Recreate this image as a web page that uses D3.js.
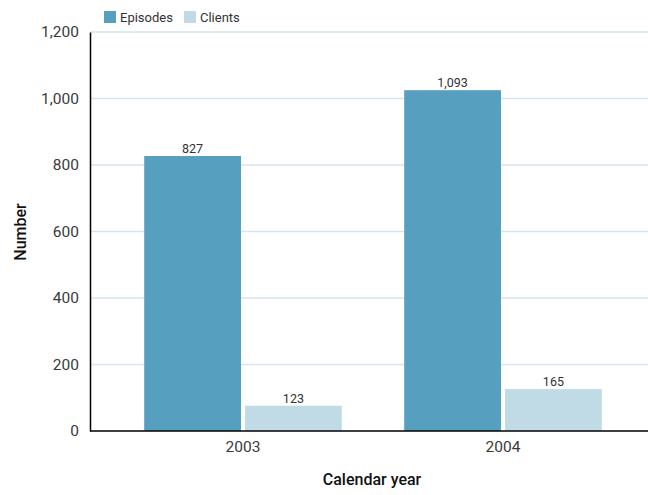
<!DOCTYPE html>
<html><head><meta charset="utf-8">
<script src="https://cdn.jsdelivr.net/npm/d3@7"></script>
<style>body{margin:0;background:#fff}svg{display:block;font-family:Roboto,"Liberation Sans",sans-serif}</style>
</head><body><svg id="c" width="648" height="495"></svg>
<script>
const years = ["2003", "2004"];
const seriesNames = ["Episodes", "Clients"];
const episodes = [827, 1025];
const clients = [76, 126];
const episodeLabels = ["827", "1,093"];
const clientLabels = ["123", "165"];
const yTicks = [0, 200, 400, 600, 800, 1000, 1200];
const colors = ["#579fbf", "#c1dbe6"];

const svg = d3.select("#c");
const y = d3.scaleLinear().domain([0, 1200]).range([431, 32]);
const x = d3.scaleBand().domain(years).range([113, 633]).paddingInner(0.24).paddingOuter(0.12);
const xs = d3.scaleBand().domain(seriesNames).range([0, x.bandwidth()]).paddingInner(0.04);

// gridlines
svg.append("g").selectAll("line").data(yTicks.filter(d => d > 0)).join("line")
  .attr("x1", 90).attr("x2", 648).attr("y1", d => y(d)).attr("y2", d => y(d))
  .attr("stroke", "#d4e5ee").attr("stroke-width", 1.5);

// y axis
const ya = svg.append("g").attr("transform", "translate(90,0)")
  .call(d3.axisLeft(y).tickValues(yTicks).tickSize(0).tickPadding(11).tickFormat(d3.format(",")));
ya.select(".domain").attr("stroke", "#000").attr("stroke-width", 1.5);
ya.selectAll("text").attr("font-size", 15.5).attr("fill", "#3a3a3a").attr("font-family", "Roboto").attr("font-weight", 400);

// bars
const data = years.map((yr, i) => ({yr, vals: [
  {s: "Episodes", v: episodes[i], lab: episodeLabels[i]},
  {s: "Clients", v: clients[i], lab: clientLabels[i]}]}));
const grp = svg.append("g").selectAll("g").data(data).join("g")
  .attr("transform", d => `translate(${x(d.yr)},0)`);
grp.selectAll("rect").data(d => d.vals).join("rect")
  .attr("x", d => xs(d.s)).attr("width", xs.bandwidth())
  .attr("y", d => y(d.v)).attr("height", d => y(0) - y(d.v))
  .attr("fill", (d, i) => colors[i]);
grp.selectAll("text").data(d => d.vals).join("text")
  .attr("x", d => xs(d.s) + xs.bandwidth() / 2).attr("y", d => y(d.v) - 3)
  .attr("text-anchor", "middle").attr("font-size", 12.5).attr("fill", "#333")
  .text(d => d.lab);

// x axis
const xa = svg.append("g").attr("transform", "translate(0,431)")
  .call(d3.axisBottom(x).tickSize(0).tickPadding(10));
xa.select(".domain").remove();
svg.append("line").attr("x1", 90).attr("x2", 648).attr("y1", 431).attr("y2", 431)
  .attr("stroke", "#000").attr("stroke-width", 1.5);
xa.selectAll("text").attr("font-size", 15.5).attr("fill", "#3a3a3a").attr("font-family", "Roboto").attr("font-weight", 400);

// axis titles
svg.append("text").attr("x", 372).attr("y", 485).attr("text-anchor", "middle")
  .attr("font-size", 16).attr("font-weight", 500).attr("fill", "#111").text("Calendar year");
svg.append("text").attr("transform", "translate(26,232) rotate(-90)").attr("text-anchor", "middle")
  .attr("font-size", 16).attr("font-weight", 500).attr("fill", "#111").text("Number");

// legend
const lg = svg.append("g").selectAll("g").data(seriesNames).join("g")
  .attr("transform", (d, i) => `translate(${[104, 184][i]},11)`);
lg.append("rect").attr("width", 12).attr("height", 12).attr("fill", (d, i) => colors[i]);
lg.append("text").attr("x", 16).attr("y", 11).attr("font-size", 13).attr("fill", "#333").text(d => d);
</script></body></html>
